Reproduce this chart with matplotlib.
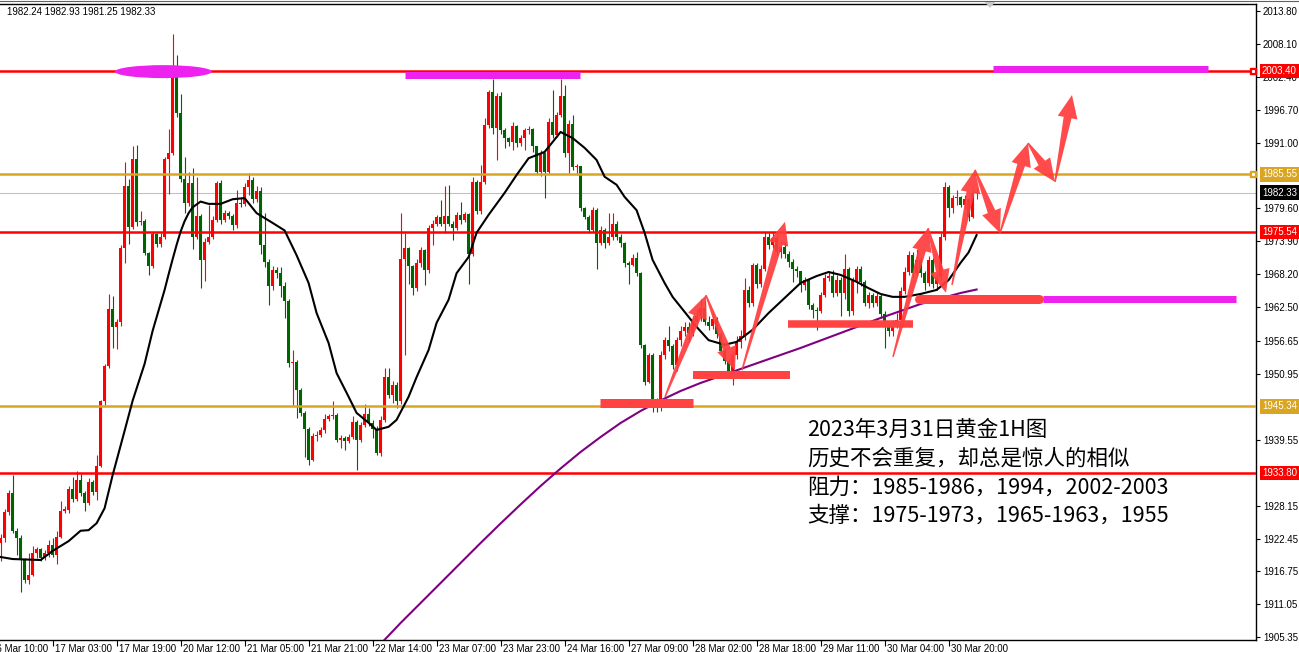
import matplotlib
matplotlib.use('Agg')
import matplotlib.pyplot as plt
import numpy as np
from matplotlib.patches import Polygon, Ellipse
from matplotlib.transforms import IdentityTransform, ScaledTranslation, blended_transform_factory

plt.rcParams['font.family'] = ['Liberation Sans', 'DejaVu Sans']

# ---------------- data ----------------
first_open = 1921.7
closes = [
1922.6, 1927.0, 1930.3, 1923.8, 1922.5, 1918.7, 1915.2, 1916.2, 1919.9, 1920.6,
1919.0, 1920.0, 1921.3, 1919.6, 1922.8, 1927.3, 1927.4, 1931.0, 1929.3, 1932.5,
1930.3, 1928.6, 1932.2, 1930.5, 1935.0, 1946.2, 1952.3, 1962.2, 1959.0, 1960.0,
1972.8, 1983.5, 1976.4, 1988.1, 1977.3, 1977.5, 1971.9, 1969.6, 1975.1, 1973.5,
1974.7, 1988.1, 1989.2, 2002.3, 1996.2, 1984.7, 1980.5, 1984.0, 1974.7, 1978.3,
1970.6, 1973.8, 1974.7, 1977.6, 1984.0, 1977.6, 1978.8, 1978.3, 1976.7, 1980.5,
1980.4, 1983.3, 1984.6, 1981.2, 1982.7, 1973.3, 1970.4, 1966.2, 1968.9, 1968.4,
1966.2, 1963.5, 1952.9, 1953.0, 1948.1, 1944.2, 1941.5, 1936.1, 1940.2, 1940.4,
1941.2, 1943.1, 1943.6, 1943.8, 1939.5, 1939.8, 1939.4, 1940.0, 1942.7, 1939.5,
1942.1, 1944.1, 1942.4, 1941.5, 1937.2, 1943.0, 1950.5, 1947.3, 1949.0, 1946.2,
1970.8, 1972.7, 1969.6, 1965.8, 1970.1, 1972.4, 1969.0, 1976.2, 1977.0, 1978.2,
1977.0, 1978.3, 1977.0, 1976.2, 1978.5, 1977.6, 1978.6, 1971.8, 1984.2, 1979.1,
1984.2, 1994.1, 1999.7, 1993.5, 1999.0, 1993.2, 1991.8, 1991.2, 1993.8, 1990.9,
1991.8, 1993.2, 1993.3, 1990.4, 1986.0, 1989.2, 1986.0, 1994.6, 1992.3, 1995.8,
1999.1, 1989.2, 1994.3, 1986.8, 1986.9, 1979.6, 1978.2, 1975.9, 1979.3, 1973.7,
1975.9, 1973.6, 1974.7, 1977.0, 1974.7, 1973.7, 1970.1, 1969.8, 1971.0, 1968.4,
1956.0, 1949.6, 1954.2, 1946.4, 1945.3, 1954.2, 1956.8, 1955.8, 1952.5, 1956.8,
1958.3, 1959.1, 1958.0, 1960.0, 1961.0, 1962.4, 1960.0, 1959.2, 1960.5, 1957.8,
1955.0, 1953.2, 1950.8, 1954.3, 1956.5, 1957.5, 1965.4, 1963.3, 1969.8, 1966.6,
1969.2, 1974.7, 1973.3, 1974.5, 1972.0, 1973.0, 1971.8, 1970.4, 1969.1, 1968.7,
1966.4, 1967.2, 1962.9, 1962.0, 1961.8, 1964.6, 1967.5, 1967.9, 1964.9, 1967.2,
1964.9, 1969.2, 1961.8, 1967.0, 1969.2, 1966.9, 1963.3, 1964.6, 1963.2, 1964.5,
1961.4, 1959.1, 1958.3, 1959.7, 1960.3, 1965.3, 1968.6, 1971.6, 1968.4, 1970.7,
1968.4, 1966.7, 1970.6, 1966.6, 1967.8, 1974.7, 1983.4, 1979.6, 1981.4, 1981.6,
1980.2, 1981.3, 1978.2, 1982.24, 1982.33]

highs = [
1923.2, 1927.6, 1930.8, 1933.5, 1924.3, 1923.0, 1919.0, 1920.0, 1921.2, 1921.0,
1920.8, 1920.5, 1922.2, 1922.5, 1923.8, 1928.9, 1928.0, 1931.6, 1933.1, 1934.2,
1933.6, 1930.6, 1932.9, 1932.5, 1936.9, 1946.4, 1952.6, 1964.8, 1964.5, 1960.5,
1973.3, 1987.6, 1984.7, 1990.4, 1990.6, 1979.2, 1977.8, 1972.0, 1975.6, 1975.4,
1975.4, 1988.5, 1993.3, 2009.8, 2006.2, 1999.4, 1988.5, 1986.0, 1986.6, 1985.0,
1978.6, 1974.5, 1980.2, 1978.3, 1984.4, 1984.6, 1979.4, 1979.2, 1978.6, 1982.8,
1981.6, 1984.0, 1985.8, 1985.1, 1983.5, 1983.4, 1978.9, 1970.8, 1969.6, 1969.5,
1969.4, 1966.8, 1963.9, 1955.1, 1953.4, 1948.6, 1944.5, 1941.8, 1940.8, 1941.0,
1941.8, 1944.1, 1944.0, 1946.3, 1944.2, 1940.3, 1940.2, 1940.6, 1943.7, 1942.9,
1942.6, 1945.7, 1945.0, 1942.9, 1942.0, 1943.6, 1951.9, 1951.9, 1949.8, 1949.5,
1978.8, 1975.3, 1973.0, 1969.9, 1970.8, 1973.0, 1972.6, 1976.8, 1977.6, 1978.5,
1981.1, 1983.5, 1983.7, 1977.5, 1979.0, 1980.8, 1979.0, 1978.8, 1985.0, 1984.6,
1987.1, 1995.2, 2000.1, 2002.1, 1999.6, 1999.8, 1993.5, 1992.0, 1994.6, 1994.0,
1992.3, 1993.6, 1993.9, 1993.6, 1990.5, 1989.8, 1989.4, 1995.2, 2000.2, 1996.3,
2002.1, 2001.0, 1995.0, 1995.8, 1987.3, 1987.0, 1979.8, 1978.5, 1979.8, 1979.6,
1976.5, 1976.2, 1978.8, 1978.8, 1977.5, 1975.2, 1973.8, 1970.5, 1971.8, 1972.1,
1968.6, 1956.2, 1954.6, 1954.5, 1946.8, 1955.0, 1957.4, 1959.3, 1956.2, 1957.3,
1959.3, 1960.0, 1960.0, 1961.0, 1962.2, 1964.0, 1963.5, 1961.0, 1961.5, 1960.8,
1958.2, 1955.5, 1953.5, 1955.0, 1957.6, 1958.5, 1967.5, 1966.1, 1970.1, 1970.2,
1969.8, 1975.6, 1975.3, 1975.5, 1975.0, 1974.0, 1973.8, 1972.2, 1970.8, 1969.6,
1968.8, 1967.8, 1967.4, 1963.3, 1962.5, 1965.2, 1968.3, 1968.6, 1969.0, 1968.0,
1967.8, 1971.7, 1969.5, 1967.8, 1969.7, 1969.6, 1967.2, 1965.2, 1965.0, 1965.2,
1964.8, 1961.8, 1959.5, 1960.3, 1961.5, 1966.0, 1969.5, 1972.3, 1972.0, 1972.6,
1971.2, 1968.8, 1971.3, 1971.0, 1968.5, 1975.4, 1984.2, 1983.6, 1981.9, 1982.8,
1981.8, 1982.0, 1981.5, 1982.8, 1982.93]

lows = [
1918.6, 1921.9, 1926.6, 1923.4, 1919.6, 1913.2, 1914.8, 1914.5, 1916.0, 1919.0,
1918.5, 1918.8, 1919.3, 1919.2, 1918.0, 1922.5, 1926.8, 1926.9, 1928.8, 1929.0,
1929.8, 1927.3, 1928.3, 1930.0, 1929.2, 1934.8, 1945.5, 1952.0, 1955.5, 1955.2,
1959.3, 1970.2, 1973.5, 1976.0, 1976.5, 1976.8, 1971.5, 1968.0, 1969.3, 1973.0,
1973.0, 1974.3, 1982.1, 1988.9, 1995.5, 1984.2, 1978.9, 1980.0, 1972.5, 1974.4,
1965.8, 1967.0, 1973.5, 1974.3, 1977.3, 1977.0, 1977.2, 1977.8, 1975.8, 1976.3,
1979.8, 1980.0, 1982.0, 1980.5, 1980.8, 1971.8, 1969.5, 1962.9, 1965.5, 1967.6,
1964.3, 1960.6, 1952.2, 1945.6, 1943.3, 1943.7, 1936.6, 1935.2, 1935.9, 1939.4,
1940.0, 1940.8, 1942.8, 1943.2, 1939.1, 1938.1, 1937.8, 1939.0, 1939.6, 1934.3,
1939.2, 1941.7, 1941.9, 1939.8, 1936.9, 1936.7, 1942.6, 1946.8, 1945.9, 1945.0,
1945.7, 1954.2, 1966.6, 1964.6, 1965.3, 1969.5, 1966.4, 1968.5, 1973.3, 1976.6,
1976.5, 1975.3, 1976.5, 1974.2, 1975.8, 1977.0, 1977.2, 1966.6, 1971.3, 1978.6,
1978.7, 1983.8, 1993.5, 1992.5, 1988.0, 1992.5, 1990.0, 1990.5, 1989.7, 1990.3,
1990.4, 1989.7, 1992.5, 1989.4, 1985.6, 1985.3, 1981.4, 1985.6, 1991.8, 1992.0,
1995.5, 1988.5, 1985.7, 1986.3, 1985.4, 1979.2, 1977.8, 1975.3, 1975.5, 1969.2,
1973.2, 1972.8, 1973.3, 1974.2, 1974.2, 1972.9, 1969.4, 1966.6, 1969.6, 1967.9,
1955.5, 1949.0, 1949.3, 1944.4, 1944.4, 1944.6, 1953.5, 1955.0, 1951.8, 1951.5,
1955.8, 1957.5, 1956.5, 1957.5, 1959.5, 1960.2, 1959.5, 1958.5, 1958.8, 1957.2,
1954.5, 1952.7, 1950.2, 1949.0, 1953.6, 1955.5, 1956.8, 1962.5, 1962.8, 1965.8,
1966.0, 1968.8, 1972.5, 1972.8, 1971.5, 1971.0, 1971.0, 1969.5, 1966.9, 1967.8,
1965.2, 1965.5, 1962.2, 1960.6, 1958.6, 1961.5, 1964.2, 1967.0, 1964.2, 1964.5,
1961.0, 1964.0, 1960.9, 1961.2, 1965.0, 1966.2, 1962.8, 1962.4, 1962.5, 1962.8,
1960.6, 1955.4, 1957.5, 1957.6, 1958.9, 1959.8, 1964.8, 1968.0, 1967.6, 1967.9,
1967.8, 1965.5, 1966.2, 1965.9, 1965.5, 1967.2, 1974.2, 1978.1, 1978.8, 1980.2,
1979.8, 1979.5, 1977.5, 1978.0, 1981.25]

# 20-period moving average (black)
ma_fast_bars = [0, 3, 10, 13, 17, 20, 22, 24, 26, 28, 31, 33, 36, 38, 41, 42, 43, 44, 45, 46,
                47, 48, 50, 52, 55, 58, 61, 64, 68, 71, 74, 77, 79, 82, 84, 87, 89, 92, 94, 97,
                99, 102, 104, 107, 109, 112, 114, 117, 119, 122, 126, 129, 132, 136, 138, 140, 143, 146, 149, 151,
                154, 156, 159, 161, 163, 166, 168, 171, 174, 177, 181, 184, 188, 192, 196, 200, 204, 207, 210, 214,
                217, 220, 223, 226, 230, 234, 237, 240, 242, 244]
ma_fast_vals = [1919.25, 1918.9, 1918.73, 1920.3, 1922.0, 1923.8, 1923.9, 1925.1, 1927.7, 1933.4,
                1941.1, 1946.3, 1952.7, 1958.4, 1965.5, 1968.2, 1970.8, 1973.3, 1975.6, 1977.4,
                1978.8, 1979.8, 1980.8, 1980.4, 1980.4, 1981.2, 1981.4, 1978.8, 1977.1, 1975.8,
                1971.5, 1966.7, 1961.5, 1956.3, 1951.1, 1947.0, 1944.2, 1942.5, 1941.25, 1941.8,
                1943.0, 1947.0, 1950.4, 1955.1, 1959.8, 1963.8, 1968.4, 1971.2, 1975.4, 1978.5,
                1982.3, 1985.4, 1988.3, 1989.4, 1991.1, 1992.85, 1991.8, 1990.1, 1988.0, 1985.1,
                1983.7, 1981.6, 1979.3, 1975.4, 1970.7, 1966.7, 1964.3, 1961.7, 1959.1, 1956.8,
                1956.0, 1956.5, 1958.6, 1961.5, 1964.1, 1966.7, 1967.9, 1968.6, 1968.1, 1966.9,
                1965.8, 1964.8, 1964.3, 1964.3, 1964.8, 1965.5, 1967.2, 1970.2, 1972.0, 1975.0]

# long moving average (purple)
ma_slow_bars = [95, 100, 105, 110, 115, 120, 125, 130, 135, 140, 145, 150, 155, 160, 165, 170,
                175, 180, 185, 190, 200, 210, 220, 230, 240, 244]
ma_slow_vals = [1904.19, 1907.83, 1911.29, 1914.75, 1918.22, 1921.68, 1925.06, 1928.35, 1931.55,
                1934.58, 1937.44, 1940.03, 1942.46, 1944.54, 1946.36, 1948.0, 1949.39, 1950.6,
                1951.81, 1953.03, 1955.45, 1958.04, 1960.64, 1963.06, 1964.97, 1965.57]

level_values = [2003.40, 1985.55, 1975.54, 1945.34, 1933.80]
level_colors = ['#FF0000', '#DAA520', '#FF0000', '#DAA520', '#FF0000']
current_price = 1982.33

ytick_vals = [2013.80, 2008.10, 2002.40, 1996.70, 1991.00, 1979.60, 1973.90, 1968.20, 1962.50,
              1956.65, 1950.95, 1939.55, 1928.15, 1922.45, 1916.75, 1911.05, 1905.35]

xtick_bars = [-3, 13, 29, 45, 61, 77, 93, 109, 125, 141, 157, 173, 189, 205, 221, 237]
xtick_labels = ['16 Mar 10:00', '17 Mar 03:00', '17 Mar 19:00', '20 Mar 12:00', '21 Mar 05:00',
                '21 Mar 21:00', '22 Mar 14:00', '23 Mar 07:00', '23 Mar 23:00', '24 Mar 16:00',
                '27 Mar 09:00', '28 Mar 02:00', '28 Mar 18:00', '29 Mar 11:00', '30 Mar 04:00',
                '30 Mar 20:00']

header = '1982.24 1982.93 1981.25 1982.33'
note_lines = ['2023年3月31日黄金1H图', '历史不会重复，却总是惊人的相似',
              '阻力：1985-1986，1994，2002-2003', '支撑：1975-1973，1965-1963，1955']

# ---------------- figure ----------------
W, H = 1299, 652
fig = plt.figure(figsize=(W / 100, H / 100), dpi=100)
fig.patch.set_facecolor('white')
ax = fig.add_axes([0, 12 / H, 1256 / W, 636 / H])
ax.set_xlim(-0.15, 313.85)
ax.set_ylim(1904.88, 2015.01)
ax.set_facecolor('white')

ax.spines['left'].set_visible(False)
for s in ['right', 'bottom', 'top']:
    ax.spines[s].set_color('black')
    ax.spines[s].set_linewidth(1.0)

# candles
c = np.array(closes)
o = np.array([first_open] + closes[:-1])
hi = np.array(highs)
lo = np.array(lows)
idx = np.arange(len(c))
cols = np.where(c >= o, '#FF0000', '#006400')
ax.vlines(idx, lo, hi, colors=cols, lw=0.8, zorder=3)
ax.bar(idx, np.maximum(np.abs(c - o), 0.18), bottom=np.minimum(o, c), width=0.75,
       color=cols, lw=0, zorder=3)

# level lines
for v, col in zip(level_values, level_colors):
    ax.axhline(v, color=col, lw=1.8, zorder=4)
ax.axhline(current_price, color='#C0C0C0', lw=0.75, zorder=2)

# moving averages
ax.plot(ma_fast_bars, ma_fast_vals, color='black', lw=1.5, zorder=5)
ax.plot(ma_slow_bars, ma_slow_vals, color='#800080', lw=1.5, zorder=5)

# highlight marks
pxl = 0.72
mag = '#EE22EE'
redm = '#FF4343'
ax.add_patch(Ellipse((40.7, 2003.3), 24.25, 2.25, fc=mag, ec='none', zorder=6))
ax.plot([101.1, 144.85], [2002.74, 2002.74], color=mag, lw=7 * pxl, solid_capstyle='butt', zorder=6)
ax.plot([248.1, 301.85], [2003.67, 2003.67], color=mag, lw=7 * pxl, solid_capstyle='butt', zorder=6)
ax.plot([260.6, 308.85], [1963.88, 1963.88], color=mag, lw=7 * pxl, solid_capstyle='butt', zorder=6)
ax.plot([149.85, 173.1], [1946.0, 1946.0], color=redm, lw=9 * pxl, solid_capstyle='butt', zorder=6)
ax.plot([173.1, 197.35], [1950.77, 1950.77], color=redm, lw=8 * pxl, solid_capstyle='butt', zorder=6)
ax.plot([196.85, 228.1], [1959.68, 1959.68], color=redm, lw=7.5 * pxl, solid_capstyle='butt', zorder=6)
ax.plot([229.7, 259.5], [1963.93, 1963.93], color=redm, lw=9 * pxl, solid_capstyle='round', zorder=6)


def red_arrow(p0, p1, w0=1.5, w1=8, hw=20, hl=23, color='#FF3D3D'):
    a = ax.transData.transform(p0)
    b = ax.transData.transform(p1)
    d = b - a
    L = np.hypot(d[0], d[1])
    u = d / L
    n = np.array([-u[1], u[0]])
    base = b - u * hl
    pts = [a + n * w0 / 2, base + n * w1 / 2, base + n * hw / 2, b,
           base - n * hw / 2, base - n * w1 / 2, a - n * w0 / 2]
    ax.add_patch(Polygon(pts, closed=True, transform=IdentityTransform(), fc=color,
                         ec='none', alpha=0.93, zorder=7))


arrows = [((166.1, 1946.96), (176.35, 1964.6)), ((176.35, 1964.6), (183.6, 1951.6)),
          ((185.35, 1951.6), (196.1, 1977.3)), ((223.1, 1953.9), (231.85, 1976.2)),
          ((231.85, 1976.2), (236.35, 1965.0)), ((237.85, 1966.35), (243.6, 1986.3)),
          ((243.6, 1986.3), (249.85, 1975.35)), ((249.85, 1975.35), (256.85, 1990.94)),
          ((256.85, 1990.94), (263.6, 1984.2)), ((263.6, 1984.2), (267.85, 1999.25))]
for p0, p1 in arrows:
    red_arrow(p0, p1)

# right axis
ax.yaxis.tick_right()
ax.set_yticks(ytick_vals)
ax.set_yticklabels([f'{v:.2f}' for v in ytick_vals])
ax.tick_params(axis='y', direction='out', length=3, width=0.8, pad=2, labelsize=7, colors='black')

for v, col in [(2003.40, '#FF0000'), (1985.55, '#DAA520'), (1982.33, '#000000'),
               (1975.54, '#FF0000'), (1945.34, '#DAA520'), (1933.80, '#FF0000')]:
    ax.annotate(f'{v:.2f}', xy=(1, v), xycoords=('axes fraction', 'data'), xytext=(4.3, 0),
                textcoords='offset points', ha='left', va='center', color='white', fontsize=7,
                bbox=dict(boxstyle='square,pad=0.25', fc=col, ec='none'), annotation_clip=False,
                zorder=10)
for v, col in [(2003.40, '#FF0000'), (1985.55, '#DAA520')]:
    ax.plot([313.1], [v], marker='s', ms=4, mfc=col, mec=col, clip_on=False, zorder=8)
    ax.plot([313.1], [v], marker='s', ms=1.2, mfc='white', mec='white', clip_on=False, zorder=9)

# bottom axis
ax.set_xticks([b for b in xtick_bars if b >= 0])
ax.set_xticklabels([])
ax.tick_params(axis='x', direction='out', length=4, width=0.8)
tr = blended_transform_factory(ax.transData, ax.transAxes) + ScaledTranslation(2.5 / 100, -3.5 / 100, fig.dpi_scale_trans)
for b, lab in zip(xtick_bars, xtick_labels):
    ax.text(b, 0, lab, transform=tr, ha='left', va='top', fontsize=7, clip_on=False)

# header & frame decorations
fig.text(7 / W, 1 - 12 / H, header, fontsize=7, va='center', ha='left')
fig.add_artist(plt.Line2D([0, 1], [1 - 0.5 / H, 1 - 0.5 / H], color='#606060', lw=0.8))
fig.add_artist(Polygon([(984 / W, 1 - 1 / H), (996 / W, 1 - 1 / H), (990 / W, 1 - 8 / H)],
                       closed=True, fc='#C8C8C8', ec='none', transform=fig.transFigure))

# notes
ys = [430, 459, 488, 516]
for t, yy in zip(note_lines, ys):
    fig.text(807 / W, 1 - yy / H, t, fontsize=15.5, va='center', ha='left', color='black',
             family=['Noto Sans CJK SC', 'DejaVu Sans'])

fig.savefig('out.png', dpi=100)
